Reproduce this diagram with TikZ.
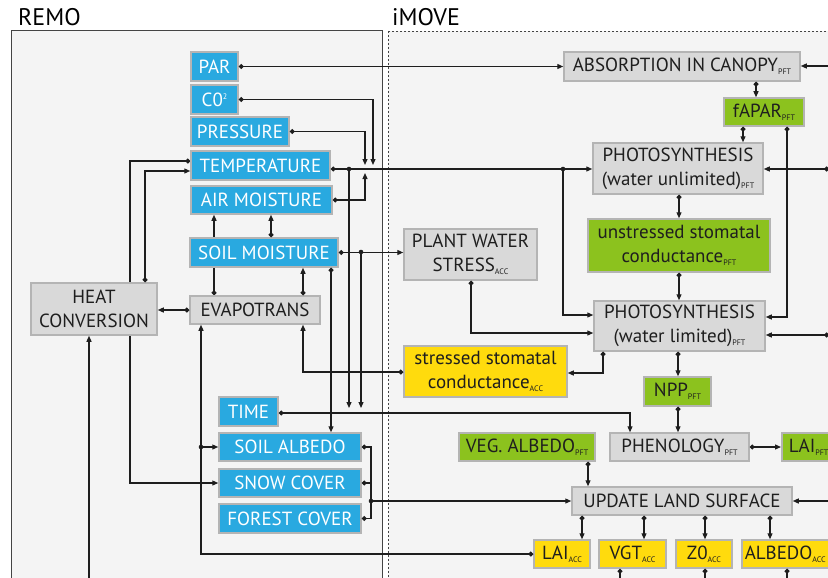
\documentclass[tikz,border=0pt]{standalone}
\usepackage{fontspec}
\setmainfont{PT Sans}
\usetikzlibrary{arrows.meta}
\definecolor{bluebox}{HTML}{29A9E0}
\definecolor{greenbox}{HTML}{8CC21E}
\definecolor{yellowbox}{HTML}{FFDB0D}
\definecolor{graybox}{HTML}{D9D9D9}
\definecolor{boxline}{HTML}{B4B4B4}
\definecolor{panel}{HTML}{F4F4F4}
\definecolor{panelline}{HTML}{444444}
\definecolor{linec}{HTML}{1E1E1E}
\newcommand{\sbs}[1]{\raisebox{-3pt}{\fontsize{8}{8}\selectfont #1}}
\pgfdeclarelayer{back}\pgfdeclarelayer{lines}\pgfsetlayers{back,lines,main}
\begin{document}
\begin{tikzpicture}[x=1pt,y=-1pt,
  font=\fontsize{19}{24}\selectfont,
  sz/.style 2 args={minimum width=#1pt, minimum height=#2pt},
  box/.style={draw=boxline, line width=1.5pt, inner sep=0pt, align=center, text=linec},
  bluebx/.style={box, fill=bluebox, text=white},
  graybx/.style={box, fill=graybox},
  greenbx/.style={box, fill=greenbox},
  yellowbx/.style={box, fill=yellowbox},
  ln/.style={line width=1.2pt, draw=linec},
  da/.style={ln, {Circle[length=4.8pt]}-{Triangle[length=6pt,width=5pt]}},
  ar/.style={ln, -{Triangle[length=6pt,width=5pt]}},
  dd/.style={ln, {Circle[length=4.8pt]}-{Circle[length=4.8pt]}},
  dn/.style={ln, {Circle[length=4.8pt]}-},
  jd/.style={fill=linec},
  title/.style={font=\fontsize{24}{24}\selectfont, anchor=base west, inner sep=0pt, text=black}
]
\useasboundingbox (0,0) rectangle (828,578);
\clip (0,0) rectangle (828,578);
\begin{pgfonlayer}{back}
\clip (0,0) rectangle (828,578);
\fill[white] (0,0) rectangle (828,578);
\filldraw[fill=panel, draw=panelline, line width=1pt] (11,31) rectangle (382,600);
\filldraw[fill=panel, draw=panelline, line width=0.8pt, dash pattern=on 2pt off 2pt] (388,31) rectangle (840,600);
\end{pgfonlayer}
\node[title] (remo) at (18,26) {REMO};
\node[title] (imove) at (392,26) {iMOVE};
% REMO nodes
\node[bluebx, sz={47}{29}] (par) at (214.5,66.5) {PAR};
\node[bluebx, sz={47}{29}] (co2) at (214.5,99.5) {C0\raisebox{7pt}{\fontsize{8}{8}\selectfont 2}};
\node[bluebx, sz={98}{29}] (pres) at (240,131.5) {PRESSURE};
\node[bluebx, sz={139}{29}] (temp) at (260.5,165.5) {TEMPERATURE};
\node[bluebx, sz={141}{28}] (airm) at (261.5,200) {AIR MOISTURE};
\node[bluebx, sz={148}{29}] (soilm) at (264,252.5) {SOIL MOISTURE};
\node[graybx, sz={130}{28}] (evap) at (255,310) {EVAPOTRANS};
\node[graybx, sz={126}{52}] (heat) at (94,309) {HEAT\\CONVERSION};
\node[bluebx, sz={59}{29}] (time) at (248.5,411.5) {TIME};
\node[bluebx, sz={142}{28}] (salb) at (290,447) {SOIL ALBEDO};
\node[bluebx, sz={142}{28}] (snow) at (290,483) {SNOW COVER};
\node[bluebx, sz={142}{29}] (forest) at (290,518.5) {FOREST COVER};
% iMOVE nodes
\node[graybx, sz={236}{29}] (abs) at (682,66.5) {ABSORPTION IN CANOPY\sbs{PFT}};
\node[greenbx, sz={80}{28}] (fapar) at (764,112) {fAPAR\sbs{PFT}};
\node[graybx, sz={170}{51}] (pu) at (678,168.5) {PHOTOSYNTHESIS\\(water unlimited)\sbs{PFT}};
\node[graybx, sz={133}{51}] (pws) at (470.5,254.5) {PLANT WATER\\STRESS\sbs{ACC}};
\node[greenbx, sz={182}{53}] (usc) at (679,245.5) {unstressed stomatal\\conductance\sbs{PFT}};
\node[graybx, sz={171}{50}] (pl) at (679.5,326) {PHOTOSYNTHESIS\\(water limited)\sbs{PFT}};
\node[yellowbx, sz={163}{51}] (ssc) at (485.5,371.5) {stressed stomatal\\conductance\sbs{ACC}};
\node[greenbx, sz={67}{29}] (npp) at (677.5,391.5) {NPP\sbs{PFT}};
\node[greenbx, sz={136}{28}] (vega) at (527,447) {VEG. ALBEDO\sbs{PFT}};
\node[graybx, sz={139}{28}] (phen) at (679.5,447) {PHENOLOGY\sbs{PFT}};
\node[greenbx, anchor=west, inner xsep=7pt, minimum height=28pt] (laip) at (781,447) {LAI\sbs{PFT}};
\node[graybx, sz={220}{28}] (uls) at (682,501) {UPDATE LAND SURFACE};
\node[yellowbx, sz={56}{28}] (laia) at (562,554) {LAI\sbs{ACC}};
\node[yellowbx, sz={67}{28}] (vgt) at (632.5,554) {VGT\sbs{ACC}};
\node[yellowbx, sz={56}{28}] (zo) at (704,554) {Z0\sbs{ACC}};
\node[yellowbx, anchor=west, inner xsep=3pt, minimum height=28pt] (alba) at (741,554) {ALBEDO\sbs{ACC}};
% free ends
\coordinate (c2e) at (373,165);
\coordinate (pre) at (365,165);
\coordinate (ame) at (365,173);
\coordinate (j1) at (349,169);
\coordinate (j2) at (563,169);
\coordinate (j3) at (361,252);
\coordinate (j4) at (201,447);
\coordinate (j5) at (371,501);
\coordinate (t1) at (349,408);
\coordinate (t2) at (361,408);
\coordinate (off89) at (89,600);
\coordinate (offa) at (840,66);
\coordinate (offb) at (829,169);
\coordinate (offc) at (829,335);
\coordinate (offd) at (840,501);
% connectors passing behind boxes
\begin{pgfonlayer}{lines}
\clip (0,0) rectangle (828,578);
\draw[da] (evap.north -| 214,0) -- (airm.south -| 214,0);
\draw[da] (temp.west |- 0,161) -| (snow.west -| 130,0) -- (snow.west);
\end{pgfonlayer}
% connectors
\draw[da] (par.east) -- (abs.west |- par.east);
\draw[da] (co2.east) -| (c2e);
\draw[da] (pres.east) -| (pre);
\draw[da] (airm.east) -| (ame);
\draw[da] (temp.east |- 0,169) -- (pu.west |- 0,169);
\draw[ar] (j1) -- (t1);
\draw[ar] (j2) |- (pl.west |- 0,315);
\draw[da] (soilm.east) -- (soilm.east -| pws.west);
\draw[ar] (j3) -- (t2);
\draw[da] (soilm.south -| 331,0) -- (salb.north -| 331,0);
\draw[da] (soilm.north -| 271,0) -- (airm.south -| 271,0);
\draw[da] (evap.north -| 303,0) -- (soilm.south -| 303,0);
\draw[da] (evap.west) -- (evap.west -| heat.east);
\draw[da] (heat.north -| 145,0) |- (temp.west |- 0,171);
\draw[ar] (off89) -- (heat.south -| 89,0);
\draw[da] (laia.west) -| (evap.south -| 201,0);
\draw[ar] (j4) -- (salb.west);
\draw[da] (ssc.west |- 0,372) -| (evap.south -| 303,0);
\draw[da] (time.east |- 0,413) -| (phen.north -| 630,0);
\draw[da] (pws.south -| 471,0) |- (pl.west |- 0,333);
\draw[da] (pl.south -| 603,0) |- (ssc.east |- 0,373);
\draw[da] (pu.south -| 679,0) -- (usc.north -| 679,0);
\draw[da] (usc.south -| 679,0) -- (pl.north -| 679,0);
\draw[da] (pl.south -| 678,0) -- (npp.north -| 678,0);
\draw[da] (npp.south -| 678,0) -- (phen.north -| 678,0);
\draw[da] (abs.south -| 756,0) -- (fapar.north -| 756,0);
\draw[da] (fapar.south -| 743,0) -- (pu.north -| 743,0);
\draw[da] (fapar.south -| 787,0) |- (pl.east |- 0,317);
\draw[ar] (offa) -- (abs.east |- offa);
\draw[da] (offb) -- (pu.east |- offb);
\draw[da] (offc) -- (pl.east |- offc);
\draw[da] (phen.east) -- (phen.east -| laip.west);
\draw[da] (vega.south -| 588,0) -- (uls.north -| 588,0);
\draw[dd] (salb.east) -| (forest.east -| 371,0) -- (forest.east);
\draw[dn] (snow.east) -- (snow.east -| 371,0);
\draw[ar] (j5) -- (uls.west |- j5);
\draw[ar] (offd) -- (uls.east |- offd);
\draw[da] (uls.south -| 582,0) -- (laia.north -| 582,0);
\draw[da] (uls.south -| 644,0) -- (vgt.north -| 644,0);
\draw[da] (uls.south -| 705,0) -- (zo.north -| 705,0);
\draw[da] (uls.south -| 770,0) -- (alba.north -| 770,0);
\draw[dn] (vgt.south -| 620,0) -- (620,600);
\draw[dn] (zo.south -| 705,0) -- (705,600);
\draw[dn] (alba.south -| 787,0) -- (787,600);
% junction dots
\foreach \j in {j1,j2,j3,j4,j5} \fill[jd] (\j) circle (2.3pt);
\end{tikzpicture}
\end{document}
